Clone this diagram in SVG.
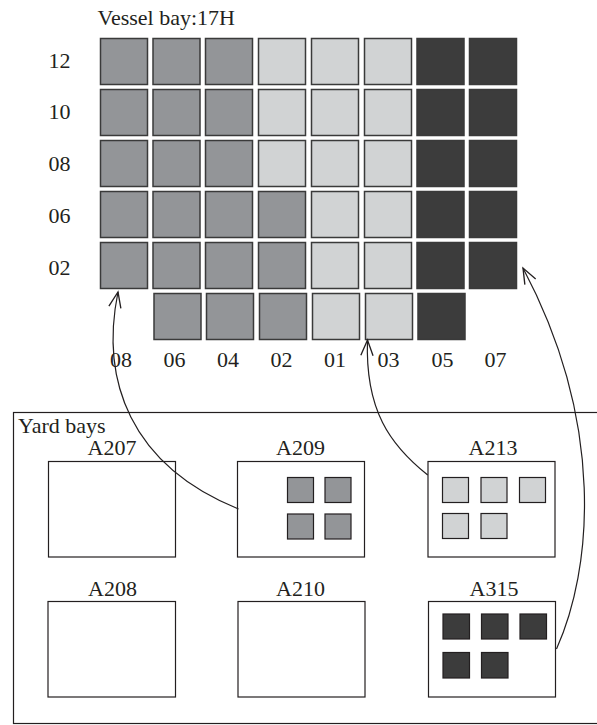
<svg xmlns="http://www.w3.org/2000/svg" width="597" height="725" viewBox="0 0 597 725">
<defs>
<style>
text{font-family:"Liberation Serif","Times New Roman",serif;font-size:22px;fill:#231f20}
.m{text-anchor:middle}
.c{stroke:#3a3a3a;stroke-width:1.5}
.g{fill:#939598}
.l{fill:#d1d3d4}
.d{fill:#3c3c3c}
.box{fill:#fff;stroke:#231f20;stroke-width:1.2}
.s{stroke:#231f20;stroke-width:1.2}
.arr{fill:none;stroke:#231f20;stroke-width:1.2;marker-end:url(#ah)}
</style>
<marker id="ah" markerUnits="userSpaceOnUse" markerWidth="20" markerHeight="20" refX="0" refY="0" viewBox="-16 -8 18 16" orient="auto" overflow="visible">
<path d="M-14,-5.5 L0,0 L-14,5.5" fill="none" stroke="#231f20" stroke-width="1.2"/>
</marker>
</defs>
<rect width="597" height="725" fill="#fff"/>

<g id="vessel-bay">
<text x="97.5" y="25">Vessel bay:17H</text>
<g id="row-labels" class="m">
<text x="59.5" y="68" class="m">12</text>
<text x="59.5" y="119" class="m">10</text>
<text x="59.5" y="171" class="m">08</text>
<text x="59.5" y="223" class="m">06</text>
<text x="59.5" y="275" class="m">02</text>
</g>
<g id="col-labels">
<text x="121" y="366.5" class="m">08</text>
<text x="174.5" y="366.5" class="m">06</text>
<text x="228" y="366.5" class="m">04</text>
<text x="281.5" y="366.5" class="m">02</text>
<text x="335" y="366.5" class="m">01</text>
<text x="388.5" y="366.5" class="m">03</text>
<text x="442.5" y="366.5" class="m">05</text>
<text x="495.5" y="366.5" class="m">07</text>
</g>
<g id="row-12">
<rect class="c g" x="100.5" y="38.5" width="47" height="46"/>
<rect class="c g" x="153" y="38.5" width="47" height="46"/>
<rect class="c g" x="205.5" y="38.5" width="47" height="46"/>
<rect class="c l" x="258.5" y="38.5" width="47" height="46"/>
<rect class="c l" x="311.5" y="38.5" width="47" height="46"/>
<rect class="c l" x="364.5" y="38.5" width="47" height="46"/>
<rect class="c d" x="417" y="38.5" width="47" height="46"/>
<rect class="c d" x="469.5" y="38.5" width="47" height="46"/>
</g>
<g id="row-10">
<rect class="c g" x="100.5" y="89.5" width="47" height="46"/>
<rect class="c g" x="153" y="89.5" width="47" height="46"/>
<rect class="c g" x="205.5" y="89.5" width="47" height="46"/>
<rect class="c l" x="258.5" y="89.5" width="47" height="46"/>
<rect class="c l" x="311.5" y="89.5" width="47" height="46"/>
<rect class="c l" x="364.5" y="89.5" width="47" height="46"/>
<rect class="c d" x="417" y="89.5" width="47" height="46"/>
<rect class="c d" x="469.5" y="89.5" width="47" height="46"/>
</g>
<g id="row-08">
<rect class="c g" x="100.5" y="140.5" width="47" height="46"/>
<rect class="c g" x="153" y="140.5" width="47" height="46"/>
<rect class="c g" x="205.5" y="140.5" width="47" height="46"/>
<rect class="c l" x="258.5" y="140.5" width="47" height="46"/>
<rect class="c l" x="311.5" y="140.5" width="47" height="46"/>
<rect class="c l" x="364.5" y="140.5" width="47" height="46"/>
<rect class="c d" x="417" y="140.5" width="47" height="46"/>
<rect class="c d" x="469.5" y="140.5" width="47" height="46"/>
</g>
<g id="row-06">
<rect class="c g" x="100.5" y="191.5" width="47" height="46"/>
<rect class="c g" x="153" y="191.5" width="47" height="46"/>
<rect class="c g" x="205.5" y="191.5" width="47" height="46"/>
<rect class="c g" x="258.5" y="191.5" width="47" height="46"/>
<rect class="c l" x="311.5" y="191.5" width="47" height="46"/>
<rect class="c l" x="364.5" y="191.5" width="47" height="46"/>
<rect class="c d" x="417" y="191.5" width="47" height="46"/>
<rect class="c d" x="469.5" y="191.5" width="47" height="46"/>
</g>
<g id="row-02">
<rect class="c g" x="100.5" y="242.5" width="47" height="46"/>
<rect class="c g" x="153" y="242.5" width="47" height="46"/>
<rect class="c g" x="205.5" y="242.5" width="47" height="46"/>
<rect class="c g" x="258.5" y="242.5" width="47" height="46"/>
<rect class="c l" x="311.5" y="242.5" width="47" height="46"/>
<rect class="c l" x="364.5" y="242.5" width="47" height="46"/>
<rect class="c d" x="417" y="242.5" width="47" height="46"/>
<rect class="c d" x="469.5" y="242.5" width="47" height="46"/>
</g>
<g id="row-bottom">
<rect class="c g" x="154" y="293.5" width="47" height="46"/>
<rect class="c g" x="206.5" y="293.5" width="47" height="46"/>
<rect class="c g" x="259.5" y="293.5" width="47" height="46"/>
<rect class="c l" x="312.5" y="293.5" width="47" height="46"/>
<rect class="c l" x="365.5" y="293.5" width="47" height="46"/>
<rect class="c d" x="418" y="293.5" width="47" height="46"/>
</g>
</g>

<g id="yard-bays">
<rect x="13.5" y="412.5" width="600" height="311" fill="none" stroke="#231f20" stroke-width="1.2"/>
<text x="18" y="433">Yard bays</text>
</g>

<g id="A207">
<text x="112" y="455" class="m">A207</text>
<rect class="box" x="48.5" y="461.5" width="127" height="95.5"/>
</g>
<g id="A209">
<text x="300.5" y="455" class="m">A209</text>
<rect class="box" x="237.5" y="461.5" width="127" height="95.5"/>
<rect class="s g" x="287.5" y="477.5" width="26" height="25"/>
<rect class="s g" x="325" y="477.5" width="26" height="25"/>
<rect class="s g" x="287.5" y="514" width="26" height="25"/>
<rect class="s g" x="325" y="514" width="26" height="25"/>
</g>
<g id="A213">
<text x="493" y="455" class="m">A213</text>
<rect class="box" x="428" y="461.5" width="127" height="95.5"/>
<rect class="s l" x="442.5" y="477.5" width="26" height="25"/>
<rect class="s l" x="481" y="477.5" width="26" height="25"/>
<rect class="s l" x="519.5" y="477.5" width="26" height="25"/>
<rect class="s l" x="442.5" y="513.5" width="26" height="25"/>
<rect class="s l" x="481" y="513.5" width="26" height="25"/>
</g>
<g id="A208">
<text x="112.5" y="596" class="m">A208</text>
<rect class="box" x="48" y="601.5" width="127.5" height="95.5"/>
</g>
<g id="A210">
<text x="300.5" y="596" class="m">A210</text>
<rect class="box" x="238" y="601.5" width="127" height="95.5"/>
</g>
<g id="A315">
<text x="494" y="596" class="m">A315</text>
<rect class="box" x="428.5" y="601.5" width="127" height="95.5"/>
<rect class="s d" x="443" y="614" width="26.5" height="25"/>
<rect class="s d" x="481.5" y="614" width="26.5" height="25"/>
<rect class="s d" x="520" y="614" width="26.5" height="25"/>
<rect class="s d" x="443" y="652.5" width="26.5" height="25.5"/>
<rect class="s d" x="481.5" y="652.5" width="26.5" height="25.5"/>
</g>

<g id="connectors">
<path class="arr" d="M238.5,509 C130,465 100,380 118,292"/>
<path class="arr" d="M427.7,475 C390,445 365,410 367.5,340"/>
<path class="arr" d="M556.5,649 C592,570 606,425 523,268"/>
</g>
</svg>
